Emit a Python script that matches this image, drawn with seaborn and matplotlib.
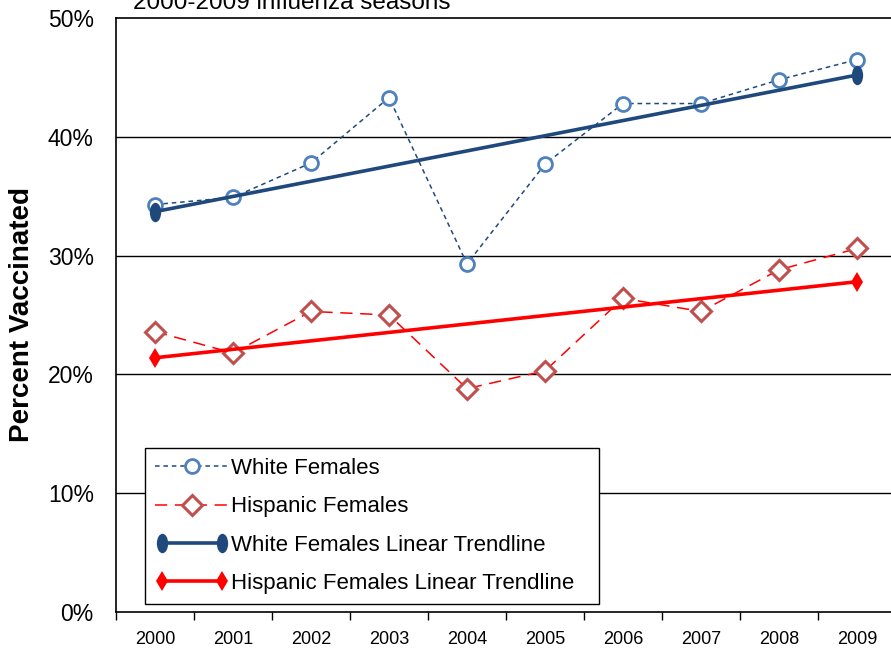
import numpy as np
import pandas as pd
import seaborn as sns
import matplotlib.pyplot as plt
from matplotlib.path import Path
from matplotlib.transforms import Affine2D
from matplotlib.legend_handler import HandlerLine2D

# data (percent vaccinated)
years = [2000, 2001, 2002, 2003, 2004, 2005, 2006, 2007, 2008, 2009]
white = [34.3, 34.9, 37.8, 43.3, 29.3, 37.7, 42.8, 42.8, 44.8, 46.5]
hispanic = [23.6, 21.8, 25.3, 25.0, 18.8, 20.3, 26.4, 25.3, 28.8, 30.6]
# linear trendline end points
trend_years = [2000, 2009]
white_trend = [33.7, 45.2]
hispanic_trend = [21.4, 27.8]
yticks = [0, 10, 20, 30, 40, 50]

df = pd.DataFrame(dict(year=years, white=white, hispanic=hispanic))
tr = pd.DataFrame(dict(year=trend_years, white=white_trend, hispanic=hispanic_trend))

sns.set_theme(style="white", rc={"text.color": "black", "axes.labelcolor": "black",
                                 "xtick.color": "black", "ytick.color": "black"})
plt.rcParams["font.family"] = ["Liberation Sans", "DejaVu Sans"]

fig = plt.figure(figsize=(8.91, 6.48), dpi=100)
ax = fig.add_axes([116 / 891, 36 / 648, 780 / 891, 594 / 648])

# tall ellipse marker for the white trendline
ellipse = Path.unit_circle().transformed(Affine2D().scale(0.58, 1.0))

sns.lineplot(data=df, x="year", y="white", ax=ax, color="#1F497D", lw=1.1,
             linestyle=(0, (3, 2.5)), marker="o", markersize=10,
             markerfacecolor="white", markeredgecolor="#4F81BD",
             markeredgewidth=2.0, label="White Females", zorder=4)
sns.lineplot(data=df, x="year", y="hispanic", ax=ax, color="#FF0000", lw=1.1,
             linestyle=(0, (8, 5)), marker="D", markersize=10.5,
             markerfacecolor="white", markeredgecolor="#C0504D",
             markeredgewidth=2.2, label="Hispanic Females", zorder=4)
sns.lineplot(data=tr, x="year", y="white", ax=ax, color="#1F497D", lw=2.6,
             marker=ellipse, markersize=14, markeredgewidth=0,
             label="White Females Linear Trendline", zorder=5)
sns.lineplot(data=tr, x="year", y="hispanic", ax=ax, color="#FF0000", lw=2.6,
             marker="d", markersize=10, markeredgewidth=0,
             label="Hispanic Females Linear Trendline", zorder=5)

ax.set_xlim(1999.5, 2009.5)
ax.set_ylim(0, 50)
ax.set_yticks(yticks)
ax.set_yticklabels([f"{v}%" for v in yticks], fontsize=16.5)
ax.set_xticks(years)
ax.set_xticklabels([str(y) for y in years], fontsize=13)
ax.set_xticks(np.arange(1999.5, 2010, 1), minor=True)
ax.tick_params(axis="x", which="major", length=0, pad=14)
ax.tick_params(axis="x", which="minor", length=6, width=1, color="black",
               direction="out", bottom=True)
ax.tick_params(axis="y", length=0, pad=16)

ax.grid(False)
for v in yticks[1:-1]:
    ax.axhline(v, color="black", lw=1.0, zorder=1)
for s in ["left", "top", "bottom"]:
    ax.spines[s].set_color("black")
    ax.spines[s].set_linewidth(1.2)
ax.spines["right"].set_visible(False)

ax.set_xlabel("")
ax.set_ylabel("Percent Vaccinated", fontsize=20, fontweight="bold")
ax.yaxis.set_label_coords(-0.104, 0.5)

lines = ax.get_lines()
handles = [l for l in lines if l.get_label() in
           ("White Females", "Hispanic Females",
            "White Females Linear Trendline", "Hispanic Females Linear Trendline")]
hm = {h: HandlerLine2D(numpoints=2) for h in handles if "Trendline" in h.get_label()}
leg = ax.legend(handles=handles, labels=[h.get_label() for h in handles],
                handler_map=hm, numpoints=1, loc="upper left",
                bbox_to_anchor=(29 / 780, 0, 454 / 780, 164 / 594), mode="expand",
                borderaxespad=0, fontsize=16, frameon=True, fancybox=False,
                edgecolor="black", framealpha=1, handlelength=3.3,
                handletextpad=0.1, labelspacing=0.78, borderpad=0.45)
leg.get_frame().set_linewidth(1.0)
leg.set_zorder(6)

fig.text(133 / 891, 1 - 9 / 648, "2000-2009 influenza seasons", fontsize=17.5,
         va="baseline", ha="left")

fig.savefig("out.png", dpi=100)
